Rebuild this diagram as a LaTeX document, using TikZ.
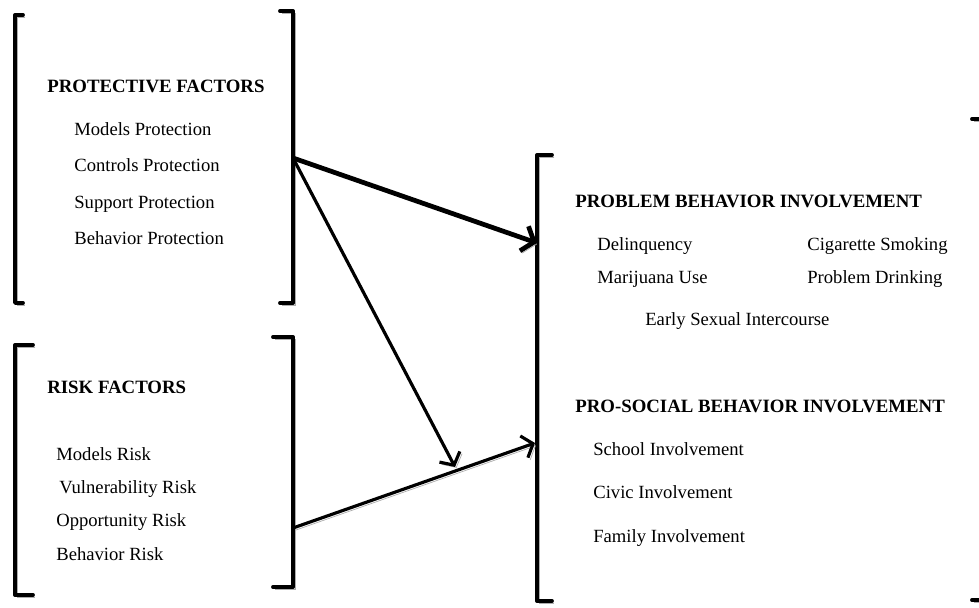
\documentclass[tikz,border=0pt]{standalone}
\usepackage{fontspec}
\setmainfont{Liberation Serif}
\usetikzlibrary{arrows.meta}

\tikzset{
    item/.style={anchor=west, inner sep=0pt, text height=0.66em, text depth=0pt, font=\fontsize{10.6}{12}\selectfont},
    head/.style={item, font=\fontsize{10.7}{12}\selectfont\bfseries},
    shadowed/.style={preaction={draw=black!32, transform canvas={shift={(0.045,-0.045)}}}},
    bracket/.style={shadowed, line width=2.2pt, line cap=round, line join=round},
    link/.style={shadowed, line width=1.8pt, -{Straight Barb[length=0.19cm, width=0.46cm, line width=1.8pt]}},
    biglink/.style={shadowed, line width=2.7pt, -{Straight Barb[length=0.21cm, width=0.52cm, line width=2.7pt]}}
}

\begin{document}
\begin{tikzpicture}
            \clip (0,0) rectangle (19.58,12.16);
            \fill[white] (0,0) rectangle (19.58,12.16);

            % Protective Factors
            \draw[bracket] (0.46,11.86) -- (0.30,11.86) -- (0.30,6.10) -- (0.46,6.10);
            \draw[bracket] (5.60,11.94) -- (5.86,11.94) -- (5.86,6.10) -- (5.60,6.10);
            \node[head] (protect) at (0.94,10.42) {PROTECTIVE FACTORS};
            \node[item] (mprot) at (1.48,9.56) {Models Protection};
            \node[item] (cprot) at (1.48,8.84) {Controls Protection};
            \node[item] (sprot) at (1.48,8.10) {Support Protection};
            \node[item] (bprot) at (1.48,7.38) {Behavior Protection};

            % Risk Factors
            \draw[bracket] (0.66,5.26) -- (0.30,5.26) -- (0.30,0.26) -- (0.66,0.26);
            \draw[bracket] (5.46,5.42) -- (5.86,5.42) -- (5.86,0.42) -- (5.46,0.42);
            \node[head] (risk) at (0.94,4.40) {RISK FACTORS};
            \node[item] (mrisk) at (1.12,3.06) {Models Risk};
            \node[item] (vrisk) at (1.18,2.40) {Vulnerability Risk};
            \node[item] (orisk) at (1.12,1.74) {Opportunity Risk};
            \node[item] (brisk) at (1.12,1.06) {Behavior Risk};

            % Behavior Involvement
            \draw[bracket] (11.04,9.06) -- (10.74,9.06) -- (10.74,0.14) -- (11.04,0.14);
            \draw[bracket] (19.44,9.78) -- (19.70,9.78) -- (19.70,0.16) -- (19.44,0.16);
            \node[head] (problem) at (11.50,8.12) {PROBLEM BEHAVIOR INVOLVEMENT};
            \node[item] (delinq) at (11.94,7.26) {Delinquency};
            \node[item] (smoking) at (16.14,7.26) {Cigarette Smoking};
            \node[item] (marijuana) at (11.94,6.60) {Marijuana Use};
            \node[item] (drinking) at (16.14,6.60) {Problem Drinking};
            \node[item] (sex) at (12.90,5.76) {Early Sexual Intercourse};
            \node[head] (prosocial) at (11.50,4.02) {PRO-SOCIAL BEHAVIOR INVOLVEMENT};
            \node[item] (school) at (11.86,3.16) {School Involvement};
            \node[item] (civic) at (11.86,2.30) {Civic Involvement};
            \node[item] (family) at (11.86,1.42) {Family Involvement};

            % Arrow ends
            \coordinate (protout) at (5.86,9.00);
            \coordinate (riskout) at (5.86,1.60);
            \coordinate (probin) at (10.74,7.30);
            \coordinate (socin) at (10.70,3.30);
            \coordinate (meet) at (9.10,2.82);

            % Arrows
            \draw[biglink] (protout) -- (probin);
            \draw[link] (protout) -- (meet);
            \draw[link] (riskout) -- (socin);
        \end{tikzpicture}
\end{document}
